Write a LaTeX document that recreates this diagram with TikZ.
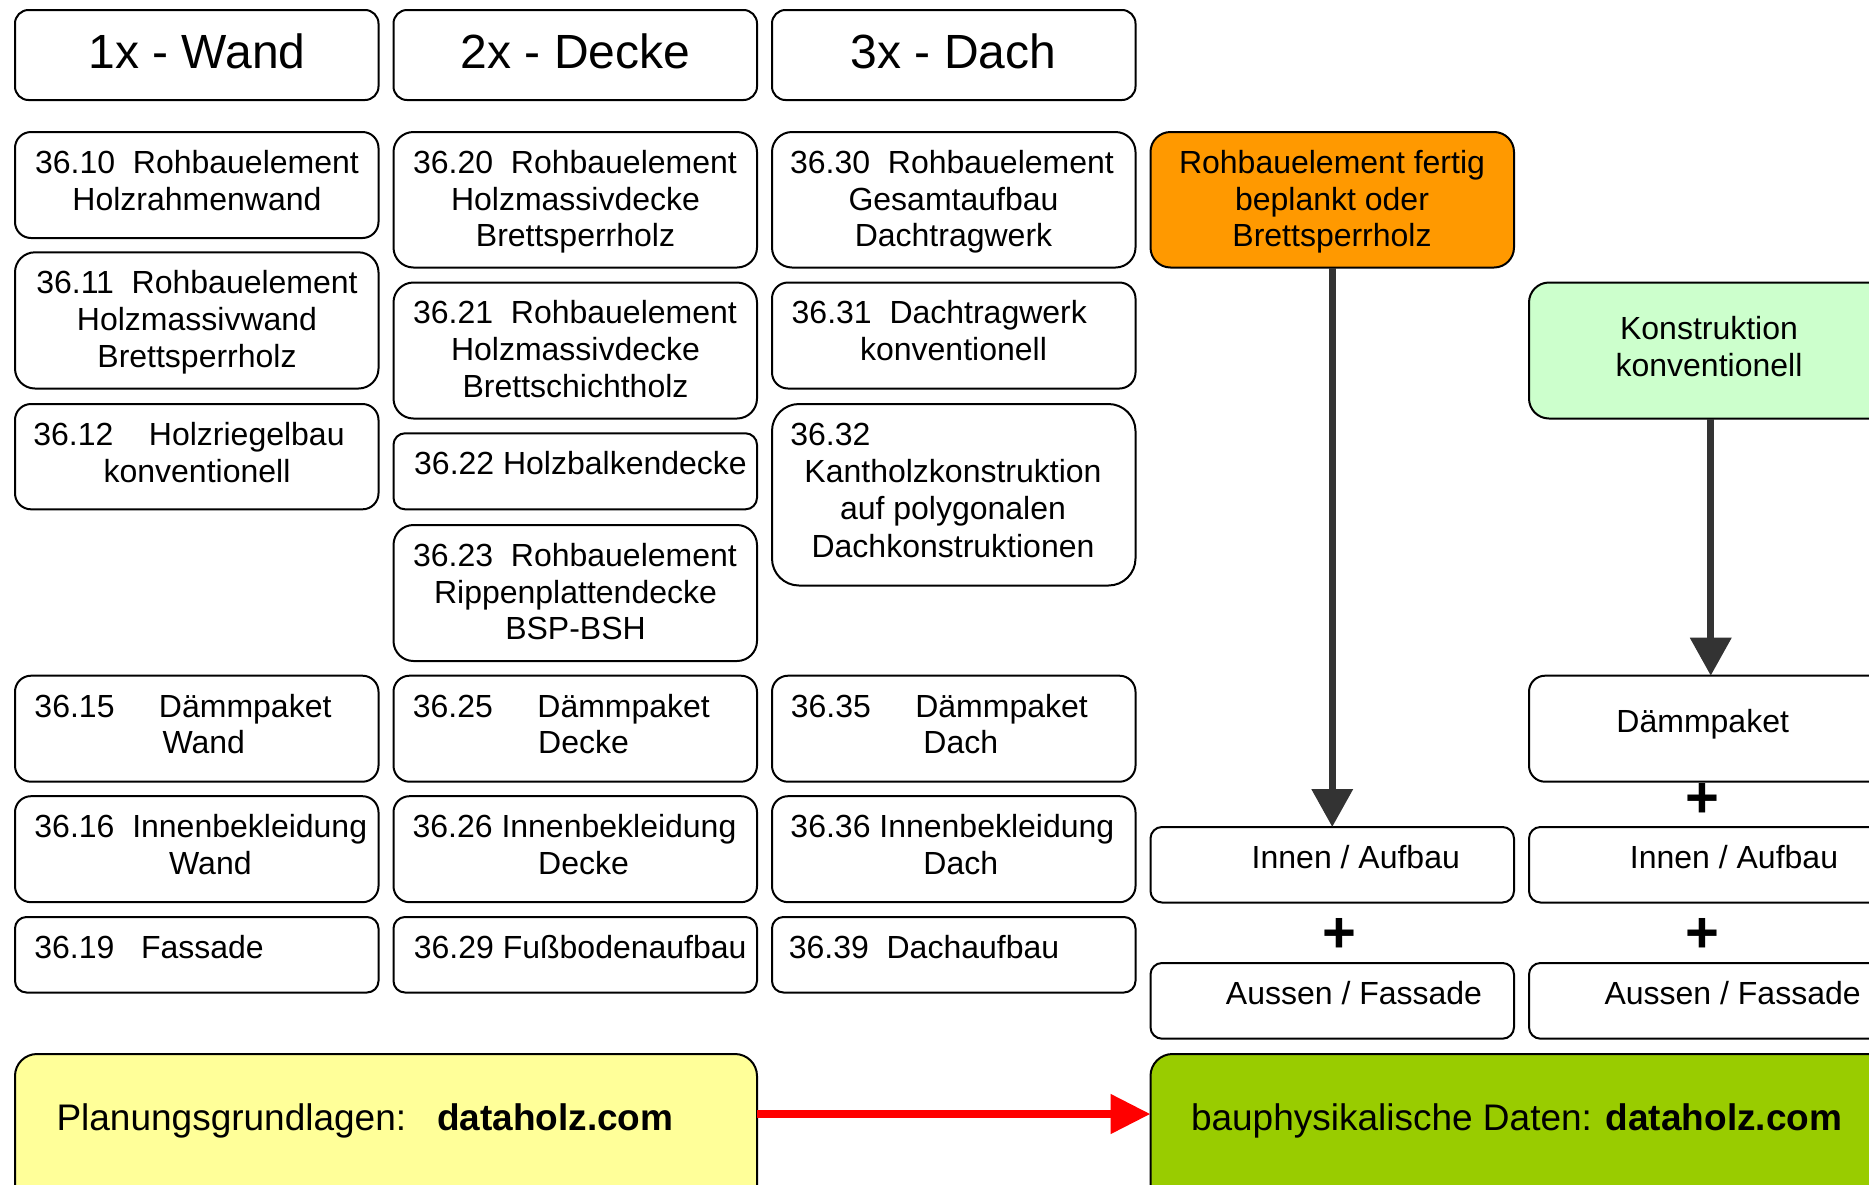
\documentclass[tikz,border=0pt]{standalone}
\usepackage{fontspec}
\setmainfont{Liberation Sans}
\usetikzlibrary{arrows.meta}
\definecolor{cOrange}{HTML}{FF9900}
\definecolor{cLight}{HTML}{CCFFCC}
\definecolor{cYellow}{HTML}{FFFF99}
\definecolor{cGreen}{HTML}{99CC00}
\definecolor{cDark}{HTML}{333333}
\newcommand\fBody{\fontsize{32}{36.8}\selectfont}
\newcommand\fHead{\fontsize{48}{55}\selectfont}
\newcommand\fBig{\fontsize{37}{42}\selectfont}
\newcommand\fPlus{\fontsize{58}{60}\selectfont\bfseries}
\newcommand\BX[7][]{\node[box,#1,minimum width=#5pt,minimum height=#6pt,rounded corners=#7pt,anchor=north west] (#2) at (#3,#4) {};}
\newcommand\TX[5][]{\node[txt,#1] (#2) at (#3,#4) {#5};}
\tikzset{
  box/.style={draw=black,line width=2pt,fill=white,inner sep=0pt,outer sep=0pt},
  txt/.style={inner sep=0pt,outer sep=0pt,anchor=base,font=\fBody},
  lefttxt/.style={anchor=base west},
  headtxt/.style={font=\fHead},
  bigtxt/.style={font=\fBig,anchor=base west},
  plustxt/.style={inner sep=0pt,font=\fPlus,anchor=center},
  darr/.style={draw=cDark,line width=7pt,-{Triangle[width=40pt,length=38pt]}},
  rarr/.style={draw=red,line width=8pt,-{Triangle[width=38pt,length=40pt]}}
}
\begin{document}
\begin{tikzpicture}[x=1pt,y=-1pt]
\useasboundingbox (0,0) rectangle (1869,1184);
\fill[white] (0,0) rectangle (1869,1184);
% headers
\BX{hWand}{15}{10}{363.5}{90}{13.5}
\BX{hDecke}{393.5}{10}{363.5}{90}{13.5}
\BX{hDach}{772}{10}{363.5}{90}{13.5}
\TX[headtxt]{thWand}{197}{68.3}{1x - Wand}
\TX[headtxt]{thDecke}{575.5}{68.3}{2x - Decke}
\TX[headtxt]{thDach}{953.5}{68.3}{3x - Dach}
% column 1
\BX{b3610}{15}{132}{363.5}{106}{16}
\TX{t3610a}{197}{173.3}{36.10~~Rohbauelement}
\TX{t3610b}{197}{210.1}{Holzrahmenwand}
\BX{b3611}{15}{252.3}{363.5}{136.2}{20}
\TX{t3611a}{197}{293.6}{36.11~~Rohbauelement}
\TX{t3611b}{197}{330.4}{Holzmassivwand}
\TX{t3611c}{197}{367.2}{Brettsperrholz}
\BX{b3612}{15}{404}{363.5}{105.3}{16}
\TX{t3612a}{189}{445.3}{36.12~~~~Holzriegelbau}
\TX{t3612b}{197}{482.1}{konventionell}
% column 2
\BX{b3620}{393.5}{132}{363.5}{135.5}{20}
\TX{t3620a}{575}{173.3}{36.20~~Rohbauelement}
\TX{t3620b}{575.5}{210.1}{Holzmassivdecke}
\TX{t3620c}{575.5}{246.9}{Brettsperrholz}
\BX{b3621}{393.5}{282.5}{363.5}{136}{20}
\TX{t3621a}{575}{323.8}{36.21~~Rohbauelement}
\TX{t3621b}{575.5}{360.6}{Holzmassivdecke}
\TX{t3621c}{575.5}{397.4}{Brettschichtholz}
\BX{b3622}{393.5}{433.3}{363.5}{76}{11.5}
\TX{t3622a}{580.5}{474.6}{36.22 Holzbalkendecke}
\BX{b3623}{393.5}{525}{363.5}{136}{20}
\TX{t3623a}{575}{566.3}{36.23~~Rohbauelement}
\TX{t3623b}{575.5}{603.1}{Rippenplattendecke}
\TX{t3623c}{575.5}{639.9}{BSP-BSH}
% column 3
\BX{b3630}{772}{132}{363.5}{135.5}{20}
\TX{t3630a}{952}{173.3}{36.30~~Rohbauelement}
\TX{t3630b}{953.5}{210.1}{Gesamtaufbau}
\TX{t3630c}{953.5}{246.9}{Dachtragwerk}
\BX{b3631}{772}{282.5}{363.5}{106}{16}
\TX{t3631a}{939.3}{323.8}{36.31~~Dachtragwerk}
\TX{t3631b}{953.5}{360.6}{konventionell}
\BX{b3632}{772}{404}{363.5}{181.5}{27}
\TX[lefttxt]{t3632a}{790.3}{445.3}{36.32}
\TX{t3632b}{953}{482.4}{Kantholzkonstruktion}
\TX{t3632c}{953}{519.5}{auf polygonalen}
\TX{t3632d}{953}{557.5}{Dachkonstruktionen}
% orange and light green
\BX[fill=cOrange]{orange}{1150.5}{132}{363.5}{135.5}{20}
\TX{tor1}{1332}{173.3}{Rohbauelement fertig}
\TX{tor2}{1332}{210.1}{beplankt oder}
\TX{tor3}{1332}{246.9}{Brettsperrholz}
\BX[fill=cLight]{konv}{1529}{282.5}{363.5}{136}{20}
\TX{tko1}{1709}{339.3}{Konstruktion}
\TX{tko2}{1709}{376.1}{konventionell}
% row Daemmpaket
\BX{b3615}{15}{675.7}{363.5}{106}{16}
\TX{t3615a}{183}{717}{36.15~~~~~Dämmpaket}
\TX{t3615b}{203.8}{753.8}{Wand}
\BX{b3625}{393.5}{675.7}{363.5}{106}{16}
\TX{t3625a}{561.4}{717}{36.25~~~~~Dämmpaket}
\TX{t3625b}{583.5}{753.8}{Decke}
\BX{b3635}{772}{675.7}{363.5}{106}{16}
\TX{t3635a}{939.3}{717}{36.35~~~~~Dämmpaket}
\TX{t3635b}{960.8}{753.8}{Dach}
\BX{daemm}{1529}{675.7}{363.5}{106}{16}
\TX{tdaemm}{1702.7}{732}{Dämmpaket}
% row Innenbekleidung
\BX{b3616}{15}{796.2}{363.5}{106}{16}
\TX{t3616a}{200.8}{837.5}{36.16~~Innenbekleidung}
\TX{t3616b}{210.4}{874.3}{Wand}
\BX{b3626}{393.5}{796.2}{363.5}{106}{16}
\TX{t3626a}{574.5}{837.5}{36.26 Innenbekleidung}
\TX{t3626b}{583.5}{874.3}{Decke}
\BX{b3636}{772}{796.2}{363.5}{106}{16}
\TX{t3636a}{952.4}{837.5}{36.36 Innenbekleidung}
\TX{t3636b}{960.8}{874.3}{Dach}
\BX{innenA}{1150.5}{827}{363.5}{75.5}{11.5}
\TX{tinnenA}{1355.8}{868}{Innen / Aufbau}
\BX{innenB}{1529}{827}{363.5}{75.5}{11.5}
\TX{tinnenB}{1734}{868}{Innen / Aufbau}
% row Fassade
\BX{b3619}{15}{917}{363.5}{75.5}{11.5}
\TX[lefttxt]{t3619a}{34.3}{958.3}{36.19~~~Fassade}
\BX{b3629}{393.5}{917}{363.5}{75.5}{11.5}
\TX{t3629a}{580.2}{958.3}{36.29 Fußbodenaufbau}
\BX{b3639}{772}{917}{363.5}{75.5}{11.5}
\TX[lefttxt]{t3639a}{788.8}{958.3}{36.39~~Dachaufbau}
\BX{aussenA}{1150.5}{963}{363.5}{75.7}{11.5}
\TX{taussenA}{1354}{1004}{Aussen / Fassade}
\BX{aussenB}{1529}{963}{363.5}{75.7}{11.5}
\TX{taussenB}{1732.6}{1004}{Aussen / Fassade}
% plus signs
\node[plustxt] (plus1) at (1702.8,800.3) {+};
\node[plustxt] (plus2) at (1339.2,935.8) {+};
\node[plustxt] (plus3) at (1702.8,935.8) {+};
% bottom boxes (run past the lower edge of the picture)
\BX[fill=cYellow]{plan}{15}{1054}{742}{160}{22}
\TX[bigtxt]{tplan}{56.5}{1130.7}{Planungsgrundlagen:~~~\textbf{dataholz.com}}
\BX[fill=cGreen]{bauph}{1150.5}{1054}{742}{160}{22}
\TX[bigtxt]{tbauph}{1191}{1130.7}{bauphysikalische Daten: \textbf{dataholz.com}}
% arrows
\draw[darr] (orange) -- (innenA);
\draw[darr] (konv) -- (daemm);
\draw[rarr] ([yshift=20pt]plan.east) -- ([yshift=20pt]bauph.west);
\end{tikzpicture}
\end{document}
